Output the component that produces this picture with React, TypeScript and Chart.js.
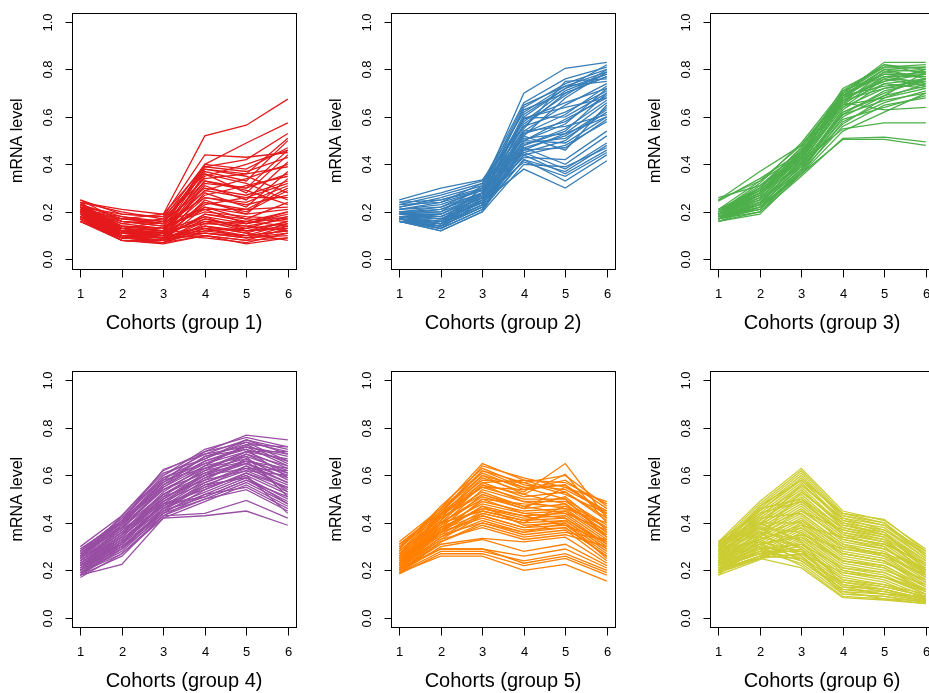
import React, { useEffect, useRef } from "react";
import { Chart, registerables } from "chart.js";

Chart.register(...registerables);

// Cohort positions on the x axis
const cohorts = [1, 2, 3, 4, 5, 6];
const cohortLabels = ["1", "2", "3", "4", "5", "6"];

// y-axis ticks
const levelTicks = [0, 0.2, 0.4, 0.6, 0.8, 1.0];
const levelTickLabels = ["0.0", "0.2", "0.4", "0.6", "0.8", "1.0"];

const groupTitles = [
  "Cohorts (group 1)",
  "Cohorts (group 2)",
  "Cohorts (group 3)",
  "Cohorts (group 4)",
  "Cohorts (group 5)",
  "Cohorts (group 6)",
];

const groupColors = ["#E41A1C", "#377EB8", "#4DAF4A", "#984EA3", "#FF7F00", "#CCCC33"];

// mRNA level profiles, one row per gene, one value per cohort
const group1: number[][] = [
  [0.20, 0.17, 0.19, 0.52, 0.565, 0.675],
  [0.22, 0.19, 0.18, 0.44, 0.43, 0.45],
  [0.21, 0.15, 0.17, 0.40, 0.49, 0.575],
  [0.24, 0.21, 0.19, 0.39, 0.42, 0.53],
  [0.19, 0.13, 0.16, 0.38, 0.36, 0.51],
  [0.23, 0.18, 0.15, 0.37, 0.33, 0.50],
  [0.18, 0.12, 0.13, 0.40, 0.38, 0.47],
  [0.20, 0.14, 0.12, 0.35, 0.40, 0.46],
  [0.22, 0.16, 0.14, 0.33, 0.30, 0.46],
  [0.17, 0.10, 0.11, 0.36, 0.28, 0.44],
  [0.21, 0.13, 0.10, 0.31, 0.25, 0.41],
  [0.19, 0.11, 0.12, 0.29, 0.34, 0.40],
  [0.24, 0.20, 0.17, 0.34, 0.36, 0.39],
  [0.20, 0.12, 0.09, 0.28, 0.22, 0.37],
  [0.16, 0.09, 0.10, 0.32, 0.30, 0.36],
  [0.22, 0.15, 0.13, 0.27, 0.31, 0.35],
  [0.18, 0.10, 0.08, 0.25, 0.19, 0.34],
  [0.23, 0.17, 0.16, 0.30, 0.27, 0.33],
  [0.20, 0.11, 0.11, 0.26, 0.24, 0.31],
  [0.17, 0.09, 0.09, 0.24, 0.20, 0.29],
  [0.21, 0.14, 0.12, 0.38, 0.35, 0.28],
  [0.19, 0.12, 0.10, 0.23, 0.26, 0.26],
  [0.25, 0.19, 0.18, 0.36, 0.32, 0.25],
  [0.16, 0.08, 0.08, 0.22, 0.17, 0.24],
  [0.20, 0.13, 0.11, 0.33, 0.29, 0.23],
  [0.22, 0.14, 0.13, 0.21, 0.21, 0.22],
  [0.18, 0.11, 0.09, 0.19, 0.16, 0.20],
  [0.21, 0.10, 0.10, 0.18, 0.15, 0.19],
  [0.19, 0.09, 0.08, 0.17, 0.13, 0.18],
  [0.17, 0.08, 0.07, 0.15, 0.14, 0.17],
  [0.23, 0.12, 0.11, 0.16, 0.12, 0.16],
  [0.20, 0.10, 0.09, 0.14, 0.11, 0.16],
  [0.18, 0.08, 0.07, 0.13, 0.10, 0.15],
  [0.22, 0.11, 0.10, 0.12, 0.13, 0.15],
  [0.16, 0.09, 0.08, 0.11, 0.09, 0.14],
  [0.24, 0.13, 0.12, 0.15, 0.16, 0.14],
  [0.19, 0.10, 0.09, 0.10, 0.08, 0.13],
  [0.21, 0.09, 0.08, 0.13, 0.12, 0.13],
  [0.17, 0.08, 0.07, 0.12, 0.10, 0.12],
  [0.20, 0.11, 0.10, 0.09, 0.07, 0.11],
  [0.18, 0.09, 0.08, 0.11, 0.09, 0.10],
  [0.16, 0.08, 0.065, 0.10, 0.065, 0.09],
  [0.22, 0.10, 0.09, 0.14, 0.11, 0.08],
  [0.19, 0.12, 0.11, 0.17, 0.14, 0.12],
  [0.25, 0.16, 0.14, 0.20, 0.18, 0.17],
  [0.21, 0.18, 0.16, 0.21, 0.15, 0.20],
  [0.20, 0.09, 0.08, 0.16, 0.15, 0.18],
  [0.22, 0.10, 0.09, 0.19, 0.17, 0.16],
  [0.18, 0.09, 0.08, 0.14, 0.12, 0.13],
  [0.24, 0.12, 0.11, 0.13, 0.09, 0.11],
  [0.17, 0.08, 0.07, 0.10, 0.08, 0.09],
  [0.21, 0.11, 0.10, 0.11, 0.10, 0.12],
  [0.19, 0.13, 0.12, 0.18, 0.12, 0.14],
  [0.23, 0.14, 0.13, 0.22, 0.19, 0.21],
  [0.20, 0.16, 0.15, 0.26, 0.23, 0.27],
  [0.18, 0.14, 0.13, 0.29, 0.26, 0.32],
  [0.22, 0.12, 0.11, 0.24, 0.21, 0.30],
  [0.21, 0.17, 0.15, 0.39, 0.37, 0.43],
];

const group2: number[][] = [
  [0.18, 0.16, 0.30, 0.70, 0.805, 0.83],
  [0.21, 0.24, 0.32, 0.66, 0.76, 0.81],
  [0.17, 0.15, 0.28, 0.64, 0.74, 0.80],
  [0.24, 0.28, 0.33, 0.62, 0.73, 0.79],
  [0.16, 0.14, 0.26, 0.60, 0.72, 0.82],
  [0.19, 0.20, 0.31, 0.58, 0.71, 0.78],
  [0.22, 0.25, 0.29, 0.63, 0.70, 0.77],
  [0.17, 0.16, 0.27, 0.57, 0.69, 0.80],
  [0.16, 0.13, 0.25, 0.55, 0.75, 0.76],
  [0.20, 0.22, 0.30, 0.65, 0.73, 0.75],
  [0.18, 0.17, 0.24, 0.52, 0.68, 0.79],
  [0.23, 0.27, 0.32, 0.59, 0.66, 0.72],
  [0.17, 0.14, 0.22, 0.595, 0.60, 0.70],
  [0.19, 0.19, 0.28, 0.595, 0.64, 0.68],
  [0.16, 0.15, 0.23, 0.54, 0.65, 0.74],
  [0.25, 0.30, 0.335, 0.56, 0.62, 0.71],
  [0.18, 0.18, 0.26, 0.53, 0.58, 0.69],
  [0.20, 0.21, 0.27, 0.50, 0.57, 0.72],
  [0.17, 0.13, 0.21, 0.48, 0.55, 0.67],
  [0.21, 0.23, 0.29, 0.51, 0.53, 0.66],
  [0.16, 0.12, 0.20, 0.47, 0.52, 0.63],
  [0.19, 0.18, 0.25, 0.49, 0.51, 0.62],
  [0.18, 0.16, 0.24, 0.45, 0.50, 0.64],
  [0.22, 0.26, 0.31, 0.54, 0.56, 0.61],
  [0.17, 0.15, 0.23, 0.50, 0.49, 0.60],
  [0.24, 0.25, 0.30, 0.46, 0.47, 0.59],
  [0.16, 0.14, 0.22, 0.44, 0.48, 0.58],
  [0.20, 0.20, 0.27, 0.52, 0.46, 0.65],
  [0.18, 0.17, 0.25, 0.48, 0.54, 0.70],
  [0.19, 0.19, 0.26, 0.43, 0.42, 0.54],
  [0.17, 0.16, 0.24, 0.47, 0.40, 0.52],
  [0.21, 0.22, 0.28, 0.45, 0.38, 0.49],
  [0.16, 0.13, 0.21, 0.42, 0.37, 0.48],
  [0.18, 0.15, 0.23, 0.44, 0.36, 0.46],
  [0.20, 0.18, 0.26, 0.41, 0.35, 0.45],
  [0.17, 0.14, 0.22, 0.42, 0.33, 0.44],
  [0.19, 0.17, 0.24, 0.38, 0.30, 0.415],
  [0.16, 0.12, 0.20, 0.40, 0.39, 0.47],
  [0.23, 0.24, 0.29, 0.53, 0.61, 0.73],
  [0.18, 0.19, 0.27, 0.61, 0.72, 0.78],
  [0.17, 0.15, 0.25, 0.50, 0.59, 0.68],
  [0.16, 0.14, 0.23, 0.46, 0.53, 0.60],
  [0.19, 0.21, 0.28, 0.56, 0.70, 0.77],
];

const group3: number[][] = [
  [0.25, 0.33, 0.44, 0.70, 0.83, 0.83],
  [0.26, 0.31, 0.42, 0.71, 0.82, 0.80],
  [0.245, 0.34, 0.45, 0.72, 0.81, 0.81],
  [0.25, 0.37, 0.48, 0.69, 0.80, 0.79],
  [0.19, 0.30, 0.47, 0.70, 0.82, 0.78],
  [0.18, 0.28, 0.46, 0.68, 0.79, 0.80],
  [0.20, 0.32, 0.49, 0.71, 0.78, 0.77],
  [0.17, 0.25, 0.44, 0.69, 0.80, 0.76],
  [0.21, 0.33, 0.48, 0.70, 0.77, 0.79],
  [0.18, 0.27, 0.45, 0.67, 0.76, 0.75],
  [0.19, 0.29, 0.43, 0.66, 0.79, 0.77],
  [0.17, 0.23, 0.42, 0.68, 0.75, 0.78],
  [0.20, 0.31, 0.46, 0.65, 0.77, 0.74],
  [0.16, 0.22, 0.40, 0.66, 0.74, 0.76],
  [0.18, 0.26, 0.41, 0.64, 0.76, 0.73],
  [0.19, 0.28, 0.44, 0.69, 0.73, 0.75],
  [0.17, 0.24, 0.39, 0.63, 0.74, 0.72],
  [0.21, 0.30, 0.45, 0.67, 0.72, 0.74],
  [0.18, 0.21, 0.38, 0.62, 0.70, 0.76],
  [0.17, 0.20, 0.37, 0.60, 0.69, 0.73],
  [0.20, 0.27, 0.42, 0.65, 0.68, 0.72],
  [0.16, 0.19, 0.36, 0.58, 0.66, 0.71],
  [0.19, 0.25, 0.40, 0.61, 0.67, 0.70],
  [0.18, 0.23, 0.38, 0.59, 0.64, 0.69],
  [0.17, 0.22, 0.37, 0.56, 0.65, 0.68],
  [0.20, 0.28, 0.43, 0.66, 0.63, 0.64],
  [0.18, 0.24, 0.39, 0.57, 0.68, 0.74],
  [0.19, 0.26, 0.41, 0.55, 0.575, 0.575],
  [0.17, 0.21, 0.36, 0.54, 0.62, 0.70],
  [0.16, 0.20, 0.35, 0.51, 0.515, 0.495],
  [0.18, 0.22, 0.36, 0.505, 0.505, 0.48],
  [0.21, 0.29, 0.44, 0.68, 0.75, 0.80],
  [0.19, 0.27, 0.43, 0.70, 0.81, 0.82],
  [0.20, 0.30, 0.47, 0.69, 0.78, 0.78],
  [0.17, 0.24, 0.41, 0.64, 0.72, 0.76],
  [0.18, 0.25, 0.40, 0.62, 0.69, 0.79],
  [0.19, 0.27, 0.42, 0.67, 0.77, 0.77],
  [0.17, 0.23, 0.38, 0.61, 0.71, 0.75],
  [0.20, 0.29, 0.45, 0.68, 0.80, 0.81],
];

const group4: number[][] = [
  [0.30, 0.43, 0.62, 0.70, 0.77, 0.75],
  [0.28, 0.42, 0.60, 0.71, 0.76, 0.72],
  [0.27, 0.41, 0.625, 0.69, 0.75, 0.71],
  [0.29, 0.40, 0.58, 0.70, 0.74, 0.70],
  [0.26, 0.39, 0.57, 0.68, 0.73, 0.72],
  [0.25, 0.43, 0.61, 0.67, 0.75, 0.69],
  [0.27, 0.38, 0.55, 0.66, 0.72, 0.68],
  [0.24, 0.37, 0.56, 0.68, 0.71, 0.66],
  [0.28, 0.40, 0.59, 0.65, 0.70, 0.67],
  [0.23, 0.36, 0.53, 0.64, 0.73, 0.65],
  [0.26, 0.38, 0.54, 0.63, 0.69, 0.64],
  [0.22, 0.35, 0.52, 0.62, 0.70, 0.63],
  [0.25, 0.37, 0.50, 0.61, 0.68, 0.62],
  [0.21, 0.34, 0.51, 0.63, 0.67, 0.60],
  [0.24, 0.36, 0.49, 0.60, 0.66, 0.61],
  [0.20, 0.33, 0.48, 0.59, 0.65, 0.59],
  [0.23, 0.35, 0.47, 0.58, 0.67, 0.58],
  [0.19, 0.32, 0.46, 0.57, 0.64, 0.57],
  [0.22, 0.34, 0.50, 0.60, 0.63, 0.56],
  [0.18, 0.31, 0.45, 0.56, 0.62, 0.55],
  [0.21, 0.33, 0.47, 0.55, 0.64, 0.54],
  [0.19, 0.30, 0.44, 0.54, 0.61, 0.53],
  [0.20, 0.32, 0.46, 0.53, 0.60, 0.52],
  [0.18, 0.29, 0.43, 0.52, 0.59, 0.50],
  [0.22, 0.31, 0.48, 0.51, 0.58, 0.49],
  [0.19, 0.28, 0.44, 0.50, 0.57, 0.48],
  [0.17, 0.27, 0.42, 0.49, 0.56, 0.47],
  [0.20, 0.30, 0.45, 0.52, 0.55, 0.46],
  [0.18, 0.26, 0.43, 0.50, 0.54, 0.45],
  [0.21, 0.29, 0.46, 0.55, 0.60, 0.44],
  [0.18, 0.225, 0.42, 0.43, 0.45, 0.39],
  [0.19, 0.27, 0.43, 0.44, 0.495, 0.42],
  [0.24, 0.38, 0.52, 0.62, 0.66, 0.53],
  [0.26, 0.40, 0.55, 0.64, 0.68, 0.51],
  [0.23, 0.35, 0.51, 0.58, 0.62, 0.60],
  [0.27, 0.41, 0.57, 0.66, 0.71, 0.59],
  [0.25, 0.39, 0.54, 0.61, 0.65, 0.57],
  [0.20, 0.31, 0.49, 0.57, 0.63, 0.62],
  [0.28, 0.42, 0.59, 0.67, 0.74, 0.66],
  [0.22, 0.33, 0.47, 0.56, 0.59, 0.48],
  [0.29, 0.41, 0.60, 0.69, 0.72, 0.64],
  [0.27, 0.40, 0.56, 0.65, 0.72, 0.69],
  [0.24, 0.36, 0.52, 0.60, 0.69, 0.61],
  [0.21, 0.32, 0.48, 0.54, 0.61, 0.55],
  [0.19, 0.29, 0.45, 0.51, 0.58, 0.51],
  [0.26, 0.39, 0.58, 0.63, 0.70, 0.70],
  [0.23, 0.34, 0.49, 0.59, 0.66, 0.63],
];

const group5: number[][] = [
  [0.28, 0.44, 0.64, 0.59, 0.55, 0.49],
  [0.30, 0.46, 0.65, 0.58, 0.57, 0.48],
  [0.31, 0.45, 0.62, 0.57, 0.60, 0.47],
  [0.29, 0.47, 0.63, 0.56, 0.54, 0.45],
  [0.32, 0.46, 0.61, 0.54, 0.58, 0.46],
  [0.27, 0.43, 0.60, 0.55, 0.56, 0.43],
  [0.26, 0.42, 0.59, 0.53, 0.65, 0.42],
  [0.28, 0.44, 0.58, 0.57, 0.52, 0.44],
  [0.25, 0.41, 0.57, 0.51, 0.53, 0.41],
  [0.24, 0.40, 0.56, 0.52, 0.605, 0.40],
  [0.27, 0.43, 0.55, 0.50, 0.50, 0.39],
  [0.23, 0.39, 0.54, 0.49, 0.49, 0.38],
  [0.26, 0.42, 0.53, 0.47, 0.51, 0.37],
  [0.22, 0.38, 0.52, 0.46, 0.48, 0.36],
  [0.25, 0.40, 0.50, 0.48, 0.47, 0.35],
  [0.21, 0.37, 0.49, 0.45, 0.46, 0.34],
  [0.24, 0.39, 0.48, 0.44, 0.45, 0.33],
  [0.20, 0.36, 0.47, 0.43, 0.44, 0.32],
  [0.23, 0.38, 0.46, 0.42, 0.43, 0.31],
  [0.22, 0.35, 0.45, 0.41, 0.42, 0.30],
  [0.21, 0.34, 0.44, 0.40, 0.41, 0.29],
  [0.24, 0.37, 0.47, 0.39, 0.40, 0.28],
  [0.20, 0.33, 0.43, 0.38, 0.39, 0.27],
  [0.23, 0.36, 0.42, 0.37, 0.38, 0.26],
  [0.21, 0.34, 0.41, 0.36, 0.40, 0.25],
  [0.22, 0.35, 0.40, 0.35, 0.37, 0.24],
  [0.20, 0.32, 0.39, 0.34, 0.36, 0.33],
  [0.21, 0.33, 0.38, 0.33, 0.35, 0.30],
  [0.20, 0.31, 0.335, 0.32, 0.34, 0.23],
  [0.19, 0.30, 0.33, 0.28, 0.31, 0.22],
  [0.20, 0.29, 0.29, 0.26, 0.29, 0.21],
  [0.19, 0.28, 0.28, 0.24, 0.27, 0.20],
  [0.185, 0.27, 0.27, 0.22, 0.25, 0.18],
  [0.19, 0.26, 0.26, 0.20, 0.225, 0.155],
  [0.21, 0.29, 0.29, 0.23, 0.26, 0.19],
  [0.26, 0.41, 0.56, 0.49, 0.46, 0.40],
  [0.29, 0.45, 0.60, 0.52, 0.48, 0.36],
  [0.25, 0.44, 0.62, 0.55, 0.50, 0.34],
  [0.27, 0.40, 0.51, 0.46, 0.55, 0.45],
  [0.30, 0.43, 0.57, 0.58, 0.53, 0.42],
  [0.22, 0.37, 0.44, 0.40, 0.47, 0.38],
  [0.24, 0.36, 0.50, 0.44, 0.42, 0.31],
  [0.31, 0.44, 0.55, 0.54, 0.56, 0.44],
  [0.28, 0.42, 0.52, 0.47, 0.44, 0.37],
  [0.23, 0.40, 0.45, 0.41, 0.45, 0.35],
  [0.21, 0.36, 0.43, 0.38, 0.41, 0.29],
  [0.25, 0.38, 0.46, 0.43, 0.39, 0.32],
  [0.19, 0.32, 0.40, 0.36, 0.38, 0.26],
];

const group6: number[][] = [
  [0.32, 0.49, 0.63, 0.45, 0.41, 0.29],
  [0.31, 0.48, 0.62, 0.44, 0.415, 0.28],
  [0.30, 0.47, 0.61, 0.43, 0.40, 0.27],
  [0.29, 0.46, 0.60, 0.42, 0.39, 0.26],
  [0.32, 0.45, 0.58, 0.41, 0.38, 0.25],
  [0.28, 0.44, 0.57, 0.40, 0.37, 0.27],
  [0.30, 0.43, 0.55, 0.39, 0.36, 0.24],
  [0.27, 0.42, 0.54, 0.38, 0.35, 0.23],
  [0.29, 0.41, 0.52, 0.37, 0.34, 0.22],
  [0.26, 0.40, 0.51, 0.36, 0.33, 0.21],
  [0.28, 0.39, 0.50, 0.35, 0.32, 0.20],
  [0.25, 0.38, 0.48, 0.34, 0.31, 0.19],
  [0.27, 0.37, 0.47, 0.33, 0.30, 0.18],
  [0.24, 0.36, 0.46, 0.32, 0.29, 0.20],
  [0.26, 0.35, 0.44, 0.31, 0.28, 0.17],
  [0.23, 0.34, 0.43, 0.30, 0.27, 0.16],
  [0.25, 0.33, 0.42, 0.29, 0.26, 0.18],
  [0.22, 0.32, 0.41, 0.28, 0.25, 0.15],
  [0.24, 0.31, 0.40, 0.27, 0.24, 0.14],
  [0.21, 0.30, 0.39, 0.26, 0.23, 0.16],
  [0.23, 0.29, 0.38, 0.25, 0.22, 0.13],
  [0.20, 0.28, 0.37, 0.24, 0.21, 0.12],
  [0.22, 0.27, 0.36, 0.23, 0.20, 0.14],
  [0.19, 0.26, 0.35, 0.22, 0.19, 0.11],
  [0.21, 0.25, 0.34, 0.21, 0.18, 0.10],
  [0.18, 0.245, 0.33, 0.20, 0.17, 0.12],
  [0.20, 0.26, 0.32, 0.19, 0.16, 0.09],
  [0.19, 0.25, 0.31, 0.18, 0.15, 0.08],
  [0.21, 0.27, 0.30, 0.17, 0.14, 0.10],
  [0.20, 0.26, 0.29, 0.16, 0.13, 0.09],
  [0.22, 0.28, 0.28, 0.15, 0.12, 0.08],
  [0.19, 0.25, 0.27, 0.14, 0.11, 0.07],
  [0.21, 0.27, 0.26, 0.13, 0.10, 0.09],
  [0.20, 0.26, 0.25, 0.12, 0.11, 0.08],
  [0.23, 0.29, 0.24, 0.11, 0.10, 0.07],
  [0.22, 0.28, 0.23, 0.10, 0.09, 0.065],
  [0.24, 0.30, 0.22, 0.09, 0.08, 0.06],
  [0.21, 0.25, 0.21, 0.085, 0.075, 0.06],
  [0.25, 0.32, 0.28, 0.13, 0.12, 0.075],
  [0.26, 0.34, 0.30, 0.16, 0.14, 0.085],
  [0.27, 0.36, 0.33, 0.20, 0.17, 0.10],
  [0.28, 0.38, 0.36, 0.24, 0.21, 0.11],
  [0.29, 0.40, 0.40, 0.27, 0.24, 0.13],
  [0.30, 0.42, 0.44, 0.31, 0.26, 0.15],
  [0.31, 0.44, 0.49, 0.35, 0.30, 0.17],
  [0.23, 0.31, 0.35, 0.29, 0.27, 0.21],
  [0.24, 0.33, 0.39, 0.34, 0.31, 0.23],
  [0.26, 0.35, 0.45, 0.37, 0.33, 0.19],
  [0.25, 0.34, 0.53, 0.40, 0.35, 0.22],
  [0.27, 0.39, 0.56, 0.41, 0.36, 0.20],
  [0.30, 0.45, 0.59, 0.43, 0.39, 0.28],
  [0.28, 0.43, 0.56, 0.42, 0.37, 0.25],
  [0.26, 0.41, 0.53, 0.39, 0.35, 0.24],
  [0.24, 0.39, 0.49, 0.36, 0.32, 0.22],
  [0.22, 0.37, 0.45, 0.33, 0.29, 0.19],
  [0.20, 0.35, 0.41, 0.30, 0.27, 0.17],
  [0.19, 0.33, 0.38, 0.27, 0.24, 0.15],
  [0.18, 0.31, 0.34, 0.24, 0.22, 0.13],
  [0.20, 0.29, 0.31, 0.21, 0.19, 0.12],
  [0.22, 0.30, 0.27, 0.19, 0.17, 0.11],
  [0.25, 0.31, 0.25, 0.15, 0.13, 0.09],
  [0.27, 0.33, 0.24, 0.12, 0.10, 0.07],
  [0.29, 0.36, 0.26, 0.10, 0.09, 0.065],
  [0.31, 0.38, 0.29, 0.11, 0.08, 0.07],
  [0.32, 0.40, 0.32, 0.14, 0.12, 0.08],
  [0.28, 0.47, 0.58, 0.44, 0.40, 0.26],
  [0.23, 0.46, 0.50, 0.38, 0.34, 0.18],
];

const groups = [group1, group2, group3, group4, group5, group6];

const FONT = '"Liberation Sans", Arial, Helvetica, sans-serif';
const CELL_W = 319;
const CELL_H = 358;

// Draws the framed panel, tick marks and labels in base-graphics style
const panelFrame = {
  id: "panelFrame",
  afterDraw(chart: any, _args: any, opts: any) {
    const { ctx, chartArea, scales } = chart;
    const xs = scales.x;
    const ys = scales.y;
    const left = Math.round(chartArea.left) + 0.5;
    const top = Math.round(chartArea.top) + 0.5;
    const right = Math.round(chartArea.right) + 0.5;
    const bottom = Math.round(chartArea.bottom) + 0.5;
    ctx.save();
    ctx.strokeStyle = "#000";
    ctx.fillStyle = "#000";
    ctx.lineWidth = 1;
    ctx.strokeRect(left, top, right - left, bottom - top);

    // y axis
    ctx.font = `13px ${FONT}`;
    ctx.textAlign = "center";
    ctx.textBaseline = "middle";
    levelTicks.forEach((v, i) => {
      const py = Math.round(ys.getPixelForValue(v)) + 0.5;
      ctx.beginPath();
      ctx.moveTo(left - 7, py);
      ctx.lineTo(left, py);
      ctx.stroke();
      ctx.save();
      ctx.translate(left - 24, py);
      ctx.rotate(-Math.PI / 2);
      ctx.fillText(levelTickLabels[i], 0, 0);
      ctx.restore();
    });

    // x axis
    cohorts.forEach((c, i) => {
      const px = Math.round(xs.getPixelForValue(c)) + 0.5;
      ctx.beginPath();
      ctx.moveTo(px, bottom);
      ctx.lineTo(px, bottom + 8);
      ctx.stroke();
      ctx.fillText(cohortLabels[i], px, bottom + 25);
    });

    // axis titles
    ctx.font = `20px ${FONT}`;
    ctx.fillText(opts.title, (chartArea.left + chartArea.right) / 2, bottom + 54);
    ctx.font = `16px ${FONT}`;
    ctx.save();
    ctx.translate(left - 55, (chartArea.top + chartArea.bottom) / 2);
    ctx.rotate(-Math.PI / 2);
    ctx.fillText("mRNA level", 0, 0);
    ctx.restore();
    ctx.restore();
  },
};

function Panel({ index }: { index: number }) {
  const ref = useRef<HTMLCanvasElement | null>(null);
  const col = index % 3;
  const row = Math.floor(index / 3);

  useEffect(() => {
    if (!ref.current) return;
    const color = groupColors[index];
    const datasets = groups[index].map((profile) => ({
      data: cohorts.map((c, i) => ({ x: c, y: profile[i] })),
      borderColor: color,
      borderWidth: 1.3,
      pointRadius: 0,
      fill: false,
      tension: 0,
    }));
    const padTop = row === 0 ? 12.5 : 13;
    const chart = new Chart(ref.current, {
      type: "line",
      data: { datasets },
      options: {
        responsive: false,
        animation: false,
        events: [],
        layout: {
          padding: { left: 72, right: CELL_W - 72 - 224.1, top: padTop, bottom: CELL_H - padTop - 256.3 },
        },
        scales: {
          x: { type: "linear", min: 0.8, max: 6.2, display: false },
          y: { type: "linear", min: -0.04, max: 1.04, display: false },
        },
        plugins: {
          legend: { display: false },
          tooltip: { enabled: false },
          panelFrame: { title: groupTitles[index] },
        } as any,
      },
      plugins: [panelFrame],
    });
    return () => chart.destroy();
  }, [index, row]);

  return (
    <canvas
      ref={ref}
      width={CELL_W}
      height={CELL_H}
      style={{ position: "absolute", left: col * CELL_W, top: row * CELL_H, width: CELL_W, height: CELL_H }}
    />
  );
}

export default function App() {
  return (
    <div
      style={{
        position: "absolute",
        left: 0,
        top: 0,
        width: 929,
        height: 693,
        overflow: "hidden",
        background: "#fff",
      }}
    >
      {[0, 1, 2, 3, 4, 5].map((i) => (
        <Panel key={i} index={i} />
      ))}
    </div>
  );
}
